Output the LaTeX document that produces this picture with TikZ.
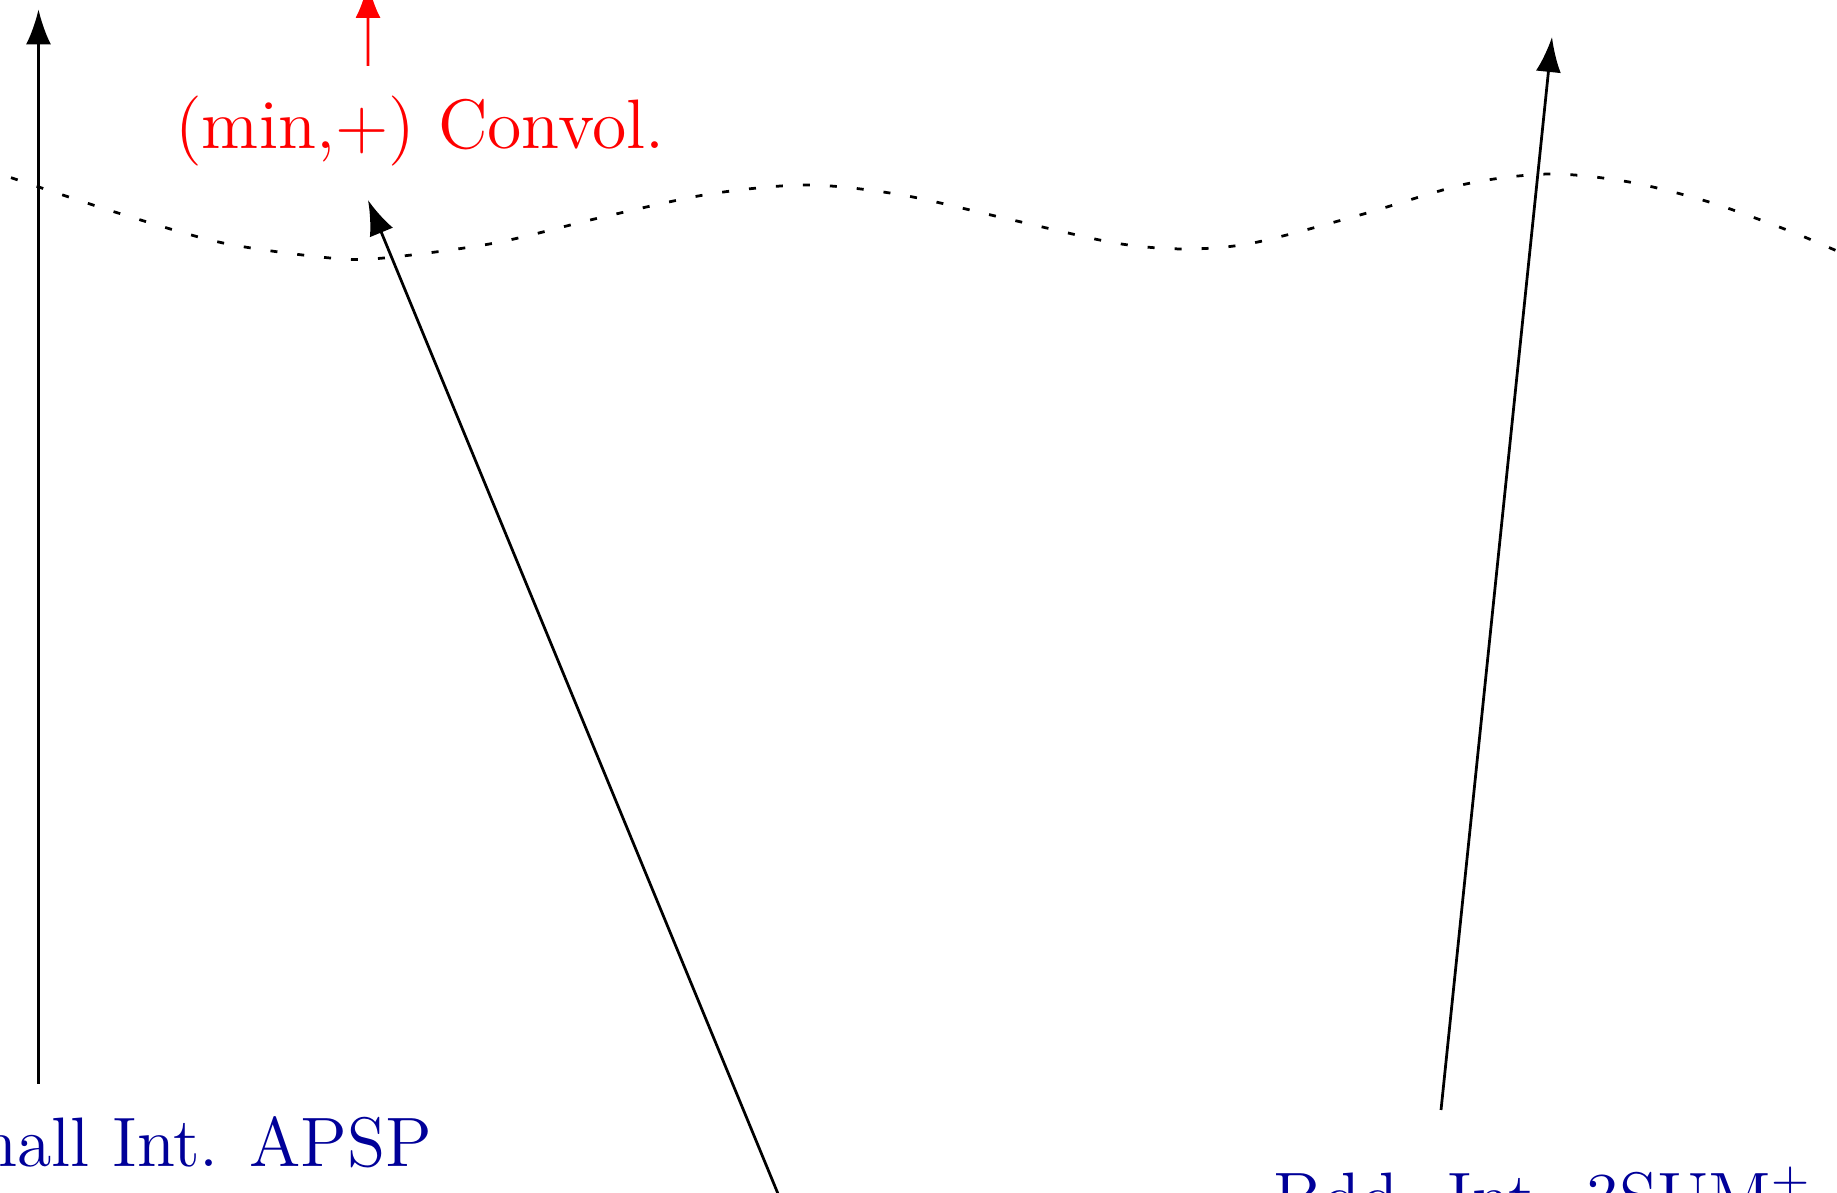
\documentclass[tikz,border=0pt]{standalone}
\usepackage{fontspec}
\usetikzlibrary{arrows.meta}
\definecolor{lblue}{RGB}{0,0,153}
\tikzset{
  label/.style={inner xsep=7pt, inner ysep=6.5pt, font=\fontsize{14}{17}\selectfont, anchor=base},
  redlabel/.style={label, text=red},
  bluelabel/.style={label, text=lblue},
  arr/.style={line width=0.55pt, -{Latex[length=7pt,width=5pt]}},
  boundary/.style={line width=0.55pt, dash pattern=on 1.4pt off 4pt}
}
\begin{document}
\begin{tikzpicture}[x=0.2pt, y=-0.2pt]
  \useasboundingbox (0,0) rectangle (1837,1193);
  \clip (0,0) rectangle (1837,1193);

  % labels
  \node[redlabel]  (conv) at (420,149)  {(min,+) Convol.};
  \node[bluelabel] (apsp) at (177,1167) {Small Int. APSP};
  \node[bluelabel] (sum)  at (1543,1222) {Bdd. Int. 3SUM\textsuperscript{+}};

  % free ends of the connectors
  \coordinate (apspTip) at (38.5,9.4);
  \coordinate (convTip) at (368,-17);
  \coordinate (midTail) at (795,1235);
  \coordinate (sumTail) at (1441,1110);
  \coordinate (sumTip)  at (1552,37);

  % dividing curve
  \draw[boundary] plot[smooth] coordinates {
    (-40,160) (9,177) (118,213) (223,243) (330,258) (384,258) (495,243)
    (603,217) (710,194) (808,185) (902,195) (1008,219) (1115,243)
    (1185,249) (1253,243) (1360,215) (1466,184) (1550,174) (1629,182)
    (1709,202) (1787,230) (1837,251) (1880,270)};

  % connectors
  \draw[arr] (apsp.north -| apspTip) -- (apspTip);
  \draw[arr, red] ([xshift=-10.4pt,yshift=-0.6pt]conv.north) -- (convTip);
  \draw[arr] (midTail) -- ([xshift=-10.4pt]conv.south);
  \draw[arr] (sumTail) -- (sumTip);
\end{tikzpicture}
\end{document}
